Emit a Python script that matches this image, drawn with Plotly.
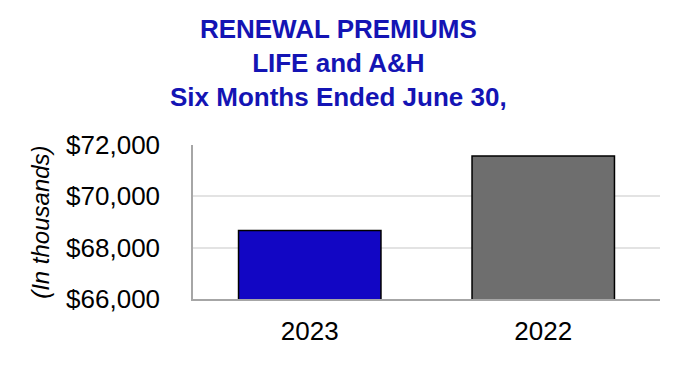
import plotly.graph_objects as go

categories = ["2023", "2022"]
values = [68670, 71570]
bar_colors = ["#1206C4", "#6E6E6E"]
y_tickvals = [66000, 68000, 70000, 72000]
y_ticktext = ["$66,000", "$68,000", "$70,000", "$72,000"]
title_lines = ["RENEWAL PREMIUMS", "LIFE and A&H", "Six Months Ended June 30,"]
y_title = "(In thousands)"

FONT = "Liberation Sans, Arial, sans-serif"

fig = go.Figure()
fig.add_trace(go.Bar(
    x=categories, y=values,
    marker=dict(color=bar_colors, line=dict(color="#000000", width=1.5)),
    width=0.61,
))

fig.update_layout(
    width=680, height=366,
    margin=dict(l=193, r=20, t=145, b=67),
    paper_bgcolor="white", plot_bgcolor="white",
    font=dict(family=FONT, color="#000000"),
    showlegend=False,
    bargap=0.39,
)

fig.add_annotation(
    text="<br>".join(title_lines),
    xref="paper", yref="paper", x=0.3105, y=(299 - 12) / 154,
    xanchor="center", yanchor="top", showarrow=False, align="center",
    font=dict(size=26, color="#1414B4", family=FONT, weight="bold"),
)

fig.update_xaxes(
    showline=True, linecolor="#A6A6A6", linewidth=2,
    showgrid=False, ticks="", tickfont=dict(size=26),
    ticklabelstandoff=8,
)
fig.update_yaxes(
    range=[66000, 72000],
    tickvals=y_tickvals, ticktext=y_ticktext,
    tickfont=dict(size=26),
    showline=True, linecolor="#A6A6A6", linewidth=1.5,
    showgrid=True, gridcolor="#E3E3E3", gridwidth=1.5,
    ticks="", ticklabelstandoff=26,
    zeroline=False,
)

fig.add_annotation(
    text=y_title, textangle=-90,
    xref="paper", yref="paper", x=-0.328, y=0.5,
    xanchor="center", yanchor="middle", showarrow=False,
    font=dict(size=24, style="italic", family=FONT, color="#000000"),
)

fig.write_html("out.html")
